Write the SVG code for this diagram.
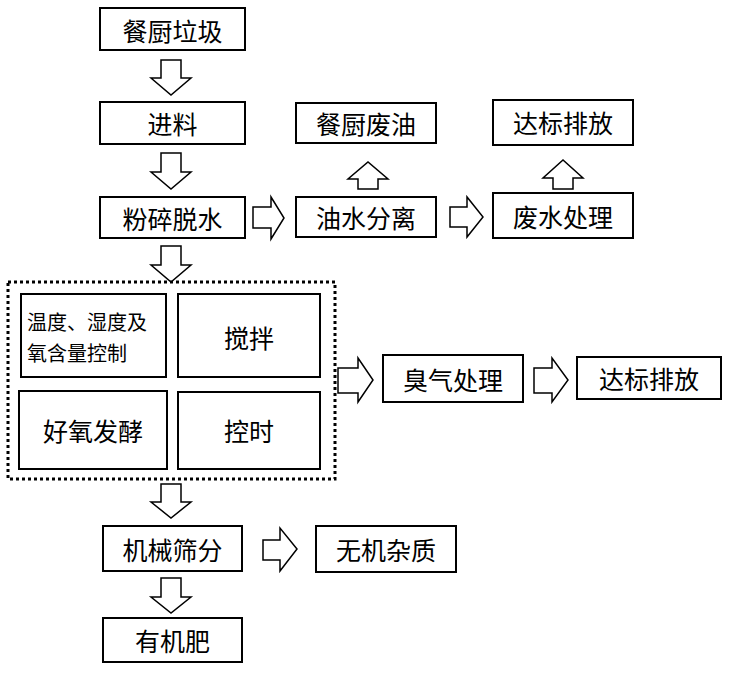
<svg xmlns="http://www.w3.org/2000/svg" width="729" height="673" viewBox="0 0 729 673">
<style>
.box{fill:#fff;stroke:#000;stroke-width:2}
.arr{fill:#fff;stroke:#000;stroke-width:1.5;stroke-linejoin:miter}
.t{font-family:"Noto Sans CJK SC","Noto Sans",sans-serif;font-size:25px;fill:#000;text-anchor:middle;dominant-baseline:central}
.s{font-family:"Noto Sans CJK SC","Noto Sans",sans-serif;font-size:20px;fill:#000;dominant-baseline:central}
.dot{fill:none;stroke:#000;stroke-width:3;stroke-dasharray:3 3}
</style>
<rect width="729" height="673" fill="#fff"/>
<g id="connectors">
<polygon class="arr" points="161,60 181,60 181,78 191,78 171,95 151,78 161,78"/>
<polygon class="arr" points="161,153 181,153 181,172 191,172 171,189 151,172 161,172"/>
<polygon class="arr" points="161,246 181,246 181,265 191,265 171,282 151,265 161,265"/>
<polygon class="arr" points="161,484 181,484 181,502 191,502 171,518 151,502 161,502"/>
<polygon class="arr" points="161,578 181,578 181,597 191,597 171,613 151,597 161,597"/>
<polygon class="arr" points="253,207 271,207 271,197 284,218 271,239 271,228 253,228"/>
<polygon class="arr" points="450,207 467,207 467,197 483,217 467,237 467,227 450,227"/>
<polygon class="arr" points="338,368 358,368 358,358 373,380 358,402 358,393 338,393"/>
<polygon class="arr" points="534,368 552,368 552,358 568,380 552,402 552,393 534,393"/>
<polygon class="arr" points="263,540 280,540 280,528 297,549 280,571 280,560 263,560"/>
<polygon class="arr" points="358,189 378,189 378,179 388,179 368,162 348,179 358,179"/>
<polygon class="arr" points="553,189 573,189 573,178 583,178 563,160 543,178 553,178"/>
</g>
<g id="n1"><rect class="box" x="100" y="8" width="145" height="42"/><text class="t" x="172.5" y="30">餐厨垃圾</text></g>
<g id="n2"><rect class="box" x="100" y="102" width="145" height="42"/><text class="t" x="172.5" y="123">进料</text></g>
<g id="n3"><rect class="box" x="100" y="197" width="145" height="41"/><text class="t" x="172.5" y="218">粉碎脱水</text></g>
<g id="n4"><rect class="box" x="296" y="103" width="140" height="40"/><text class="t" x="366" y="123">餐厨废油</text></g>
<g id="n5"><rect class="box" x="296" y="197" width="140" height="40"/><text class="t" x="366" y="217">油水分离</text></g>
<g id="n6"><rect class="box" x="493" y="100" width="140" height="45"/><text class="t" x="563" y="122">达标排放</text></g>
<g id="n7"><rect class="box" x="493" y="193" width="140" height="45"/><text class="t" x="563" y="216">废水处理</text></g>
<g id="group"><rect class="dot" x="8" y="282" width="327" height="197"/></g>
<g id="n8"><rect class="box" x="21" y="294" width="145" height="83"/><text class="s"><tspan x="27" y="321">温度、湿度及</tspan><tspan x="27" y="352">氧含量控制</tspan></text></g>
<g id="n9"><rect class="box" x="178" y="294" width="142" height="83"/><text class="t" x="249" y="337">搅拌</text></g>
<g id="n10"><rect class="box" x="19" y="391" width="148" height="78"/><text class="t" x="93" y="430">好氧发酵</text></g>
<g id="n11"><rect class="box" x="178" y="392" width="142" height="77"/><text class="t" x="249" y="430">控时</text></g>
<g id="n12"><rect class="box" x="383" y="355" width="140" height="47"/><text class="t" x="453" y="379">臭气处理</text></g>
<g id="n13"><rect class="box" x="577" y="357" width="144" height="42"/><text class="t" x="649" y="378">达标排放</text></g>
<g id="n14"><rect class="box" x="103" y="526" width="139" height="45"/><text class="t" x="172.5" y="549">机械筛分</text></g>
<g id="n15"><rect class="box" x="316" y="526" width="140" height="46"/><text class="t" x="386" y="549">无机杂质</text></g>
<g id="n16"><rect class="box" x="103" y="618" width="139" height="44"/><text class="t" x="172.5" y="640">有机肥</text></g>
</svg>
